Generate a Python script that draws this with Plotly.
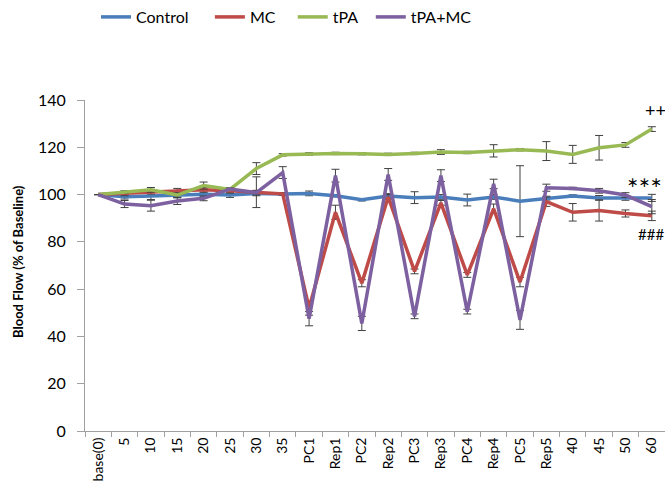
import plotly.graph_objects as go

categories = ["base(0)", "5", "10", "15", "20", "25", "30", "35", "PC1", "Rep1", "PC2", "Rep2",
              "PC3", "Rep3", "PC4", "Rep4", "PC5", "Rep5", "40", "45", "50", "60"]

control = [100, 99.1, 99.4, 99.6, 100.1, 99.8, 100.5, 100.2, 100.5, 99.5, 97.8, 99.4,
           98.7, 99.0, 97.7, 99.0, 97.2, 98.3, 99.4, 98.6, 98.6, 98.6]
control_err = [0, 1, 1.5, 1, 1, 1, 1, 0.5, 1, 0.5, 0.5, 1, 2.5, 1, 2.5, 1, 15, 1, 0.5, 1, 1, 1.5]

mc = [100, 100.5, 101.2, 101.6, 102.0, 101.6, 101.0, 100.3, 52, 92.5, 62.5, 99.0,
      67.5, 96.5, 66, 94, 63, 97.0, 92.5, 93.3, 92.0, 91.0]
mc_err = [0, 1, 1, 1, 1, 1, 6.5, 0.5, 3, 3, 1.5, 1, 1, 1, 1, 2, 2, 2, 3.7, 4.5, 1.5, 2]

tpa = [100, 101, 102, 99.8, 103.8, 102.2, 111, 116.8, 117.2, 117.4, 117.3, 117.0,
       117.4, 118.0, 117.8, 118.5, 119.0, 118.4, 117.0, 119.8, 121.0, 127.7]
tpa_err = [0, 0.5, 1, 1, 1.5, 0.5, 2.5, 0.5, 0.5, 0.5, 0.5, 0.5, 0.5, 1, 0.5, 2.6, 0.5, 4, 3.8, 5.2, 1, 1]

tpamc = [100, 96.0, 95.3, 97.3, 98.4, 102.3, 100.8, 109.3, 47.5, 108, 45.5, 108.5,
         48.5, 108, 50.5, 104.5, 47, 102.9, 102.6, 101.6, 99.8, 94.9]
tpamc_err = [0, 1.5, 2.3, 1.5, 1, 0.5, 1, 2.5, 3, 2.7, 3, 2.5, 1, 2.5, 1, 2, 4, 1.5, 0.5, 1, 1, 3]

series = [
    ("Control", control, control_err, "#4A7EBB", 4),
    ("MC", mc, mc_err, "#BE4B48", 3),
    ("tPA", tpa, tpa_err, "#98B954", 2),
    ("tPA+MC", tpamc, tpamc_err, "#7D60A0", 0),
]

fig = go.Figure()
for name, vals, errs, color, pad in series:
    fig.add_trace(go.Scatter(
        x=categories, y=vals, name=name + "\u00a0" * pad, mode="lines",
        line=dict(color=color, width=3.5),
        error_y=dict(type="data", array=errs, visible=True, color="#404040",
                     thickness=1, width=4),
    ))

L, R, T, B = 85, 0, 100, 62
W, H = 665, 493
pw = W - L - R
ph = H - T - B

def px(xp):
    return (xp - L) / pw

def py(yp):
    return (H - B - yp) / ph

fig.update_layout(
    width=W, height=H,
    margin=dict(l=L, r=R, t=T, b=B),
    paper_bgcolor="white", plot_bgcolor="white",
    font=dict(family="Lato, Liberation Sans, sans-serif", color="#000000"),
    showlegend=True,
    legend=dict(orientation="h", x=px(96), y=py(0), xanchor="left", yanchor="top",
                font=dict(size=16, color="#000000"), bgcolor="rgba(0,0,0,0)",
                itemwidth=30, tracegroupgap=0),
    xaxis=dict(
        type="category", tickson="boundaries", showgrid=False, zeroline=False,
        showline=True, linecolor="#A0A0A0", linewidth=1,
        ticks="outside", ticklen=5, tickcolor="#A0A0A0",
        tickangle=-90, tickfont=dict(size=14, color="#000000"),
        automargin=False, range=[-0.5, len(categories) - 0.5],
    ),
    yaxis=dict(
        range=[0, 140], tickvals=[0, 20, 40, 60, 80, 100, 120, 140],
        showgrid=False, zeroline=False,
        showline=True, linecolor="#A0A0A0", linewidth=1,
        ticks="outside", ticklen=7, tickcolor="#A0A0A0",
        ticklabelstandoff=8,
        tickfont=dict(size=16, color="#000000"), automargin=False,
    ),
    annotations=[
        dict(text="<b>Blood Flow (% of Baseline)</b>", x=px(18), y=py(262),
             xref="paper", yref="paper", showarrow=False, textangle=-90,
             font=dict(size=13, color="#000000"), xanchor="center", yanchor="middle"),
        dict(text="++", x=px(643), y=py(110), xref="paper", yref="paper",
             showarrow=False, xanchor="left", yanchor="middle",
             font=dict(size=18, color="#000000")),
        dict(text="\u2217\u2217\u2217", x=px(664), y=py(182), xref="paper", yref="paper",
             showarrow=False, xanchor="right", yanchor="middle",
             font=dict(family="DejaVu Sans", size=14, color="#000000")),
        dict(text="###", x=px(636), y=py(234), xref="paper", yref="paper",
             showarrow=False, xanchor="left", yanchor="middle",
             font=dict(size=15, color="#000000")),
    ],
)

fig.write_html("out.html", config={"displayModeBar": False},
               post_script="document.body.style.margin='0';document.body.style.overflow='hidden';")
